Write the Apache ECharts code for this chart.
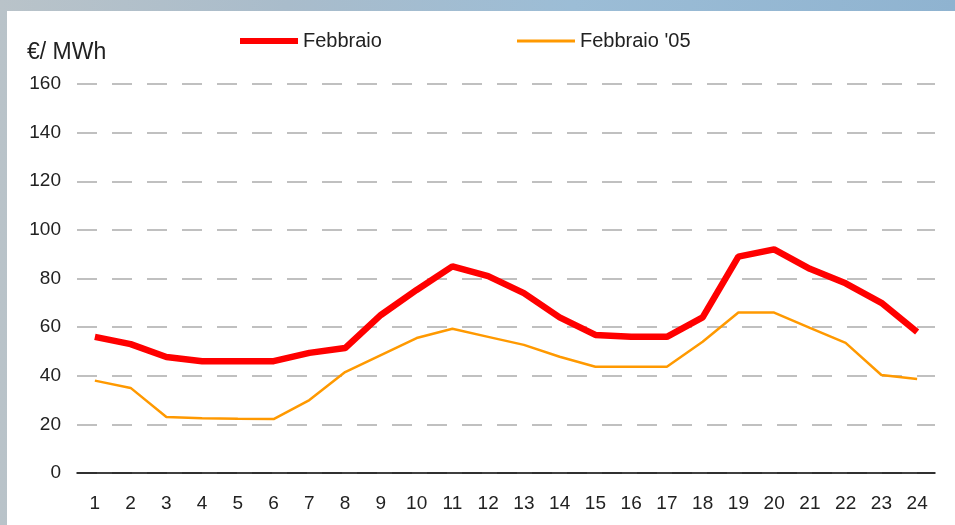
<!DOCTYPE html>
<html>
<head>
<meta charset="utf-8">
<script src="https://cdn.jsdelivr.net/npm/echarts@6/dist/echarts.min.js"></script>
<style>
  html, body { margin: 0; padding: 0; }
  body {
    width: 955px; height: 525px; overflow: hidden; position: relative;
    background: linear-gradient(90deg, #b9c3c9 0%, #a9bccb 30%, #9cbdd6 60%, #8fb3d0 100%);
  }
  #chart {
    position: absolute; left: 7px; top: 11px; width: 948px; height: 514px;
    background: #fff;
  }
</style>
</head>
<body>
<div id="chart"></div>
<script>
// hours of the day
const hours = ['1','2','3','4','5','6','7','8','9','10','11','12','13','14','15','16','17','18','19','20','21','22','23','24']
// €/MWh
const febbraio = [56, 53, 47.7, 46, 46, 46, 49.4, 51.4, 65, 75.3, 85, 81, 74, 64, 56.8, 56, 56, 64, 89, 92, 84, 78, 70, 58]
const febbraio05 = [38, 35, 23, 22.5, 22.3, 22.2, 30, 41.5, 48.5, 55.5, 59.3, 56, 52.7, 47.8, 43.7, 43.7, 43.7, 54, 66, 66, 59.7, 53.5, 40.3, 38.7]

const font = '"Liberation Sans", Arial, sans-serif'
const chart = echarts.init(document.getElementById('chart'))

// the two legend entries have different line thicknesses, so one legend each
const legendText = { fontFamily: font, fontSize: 20, color: '#222' }

chart.setOption({
  animation: false,
  backgroundColor: '#fff',
  title: {
    text: '€/ MWh',
    left: 15,
    top: 25,
    textStyle: { fontFamily: font, fontSize: 23, fontWeight: 'normal', color: '#222' }
  },
  legend: [
    {
      left: 228, top: 15,
      icon: 'rect', itemWidth: 58, itemHeight: 6,
      textStyle: legendText,
      data: ['Febbraio']
    },
    {
      left: 505, top: 15,
      icon: 'rect', itemWidth: 58, itemHeight: 3,
      textStyle: legendText,
      data: ["Febbraio '05"]
    }
  ],
  grid: { left: 70, right: 20, top: 73, bottom: 52 },
  xAxis: {
    type: 'category',
    data: hours,
    boundaryGap: true,
    axisLine: { lineStyle: { color: '#000', width: 1.5 } },
    axisTick: { show: false },
    axisLabel: { fontFamily: font, fontSize: 19, color: '#222', margin: 21 }
  },
  yAxis: {
    type: 'value',
    min: 0,
    max: 160,
    interval: 20,
    axisLine: { show: false },
    axisTick: { show: false },
    axisLabel: { fontFamily: font, fontSize: 19, color: '#222', margin: 16 },
    splitLine: { lineStyle: { color: '#c0c0c0', width: 2, type: [20, 15] } }
  },
  series: [
    {
      name: 'Febbraio',
      type: 'line',
      data: febbraio,
      symbol: 'none',
      color: '#ff0000',
      lineStyle: { width: 6.5, color: '#ff0000' },
      z: 3
    },
    {
      name: "Febbraio '05",
      type: 'line',
      data: febbraio05,
      symbol: 'none',
      color: '#ff9900',
      lineStyle: { width: 2.5, color: '#ff9900' },
      z: 2
    }
  ]
})
</script>
</body>
</html>
